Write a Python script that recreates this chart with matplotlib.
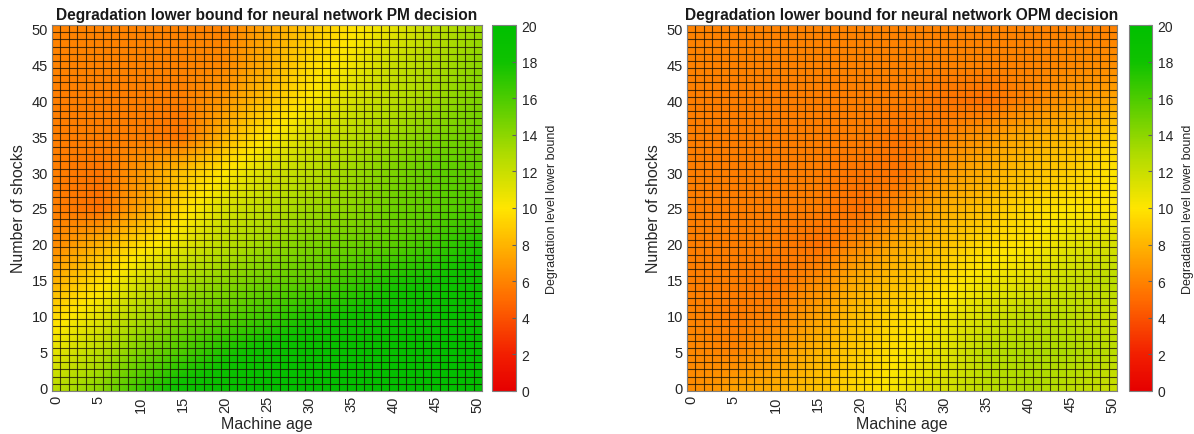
import numpy as np
import matplotlib
matplotlib.use("Agg")
import matplotlib.pyplot as plt
from matplotlib.colors import LinearSegmentedColormap

plt.rcParams['font.family'] = ['Liberation Sans', 'DejaVu Sans']

# Grid positions at which the values were read (every 5 units)
ages = [0, 5, 10, 15, 20, 25, 30, 35, 40, 45, 50]
shocks = [0, 5, 10, 15, 20, 25, 30, 35, 40, 45, 50]
tick_vals = list(range(0, 51, 5))
cbar_ticks = list(range(0, 21, 2))

# rows: shocks 0..50, columns: ages 0..50
pm_bound = [
    [12.5, 14.0, 16.5, 18.5, 19.0, 19.5, 19.5, 19.5, 19.5, 19.5, 19.5],
    [11.0, 12.5, 14.5, 16.0, 17.5, 18.5, 19.0, 19.0, 19.0, 19.5, 19.5],
    [9.5, 11.0, 13.0, 14.5, 15.5, 16.5, 17.5, 18.0, 18.5, 19.0, 19.0],
    [7.8, 9.5, 11.5, 13.0, 14.0, 15.0, 15.5, 16.5, 17.5, 18.0, 18.5],
    [6.3, 7.8, 9.5, 11.0, 12.5, 13.5, 14.5, 15.0, 15.5, 16.5, 17.5],
    [5.8, 5.2, 7.2, 9.5, 11.5, 12.5, 13.5, 14.0, 15.0, 15.5, 16.0],
    [5.8, 5.4, 6.8, 8.5, 10.0, 11.5, 12.5, 13.5, 14.5, 15.5, 15.5],
    [5.8, 5.8, 5.8, 5.4, 8.0, 10.0, 11.5, 12.5, 13.5, 14.5, 15.0],
    [5.8, 5.8, 5.8, 5.8, 6.8, 8.5, 10.0, 11.5, 12.5, 13.5, 14.5],
    [6.0, 6.0, 6.0, 6.0, 6.2, 7.7, 9.5, 10.5, 12.0, 13.0, 14.0],
    [6.0, 6.0, 6.0, 6.0, 6.0, 7.3, 8.7, 9.8, 11.0, 12.5, 13.5],
]

opm_bound = [
    [6.3, 7.2, 7.7, 8.5, 9.5, 10.5, 11.5, 12.5, 13.0, 12.5, 12.0],
    [6.2, 6.0, 6.8, 8.0, 9.0, 10.0, 11.0, 12.5, 13.0, 13.0, 12.5],
    [6.0, 5.7, 6.0, 7.2, 8.5, 9.5, 10.5, 11.5, 12.5, 12.5, 12.0],
    [5.8, 5.8, 5.4, 6.3, 7.7, 8.5, 9.5, 10.5, 11.0, 12.0, 12.5],
    [5.8, 5.8, 5.8, 5.2, 6.3, 7.7, 8.5, 9.5, 10.0, 11.0, 11.5],
    [5.8, 5.8, 5.8, 5.8, 5.2, 6.3, 7.7, 8.5, 9.5, 10.0, 10.0],
    [5.8, 5.8, 5.8, 5.8, 5.4, 5.4, 6.8, 7.7, 8.5, 9.0, 10.0],
    [5.8, 5.8, 5.8, 5.8, 5.8, 5.4, 6.0, 6.8, 7.7, 8.2, 9.0],
    [5.8, 5.8, 5.8, 5.8, 5.8, 5.8, 5.4, 5.2, 6.0, 6.8, 7.3],
    [6.0, 6.0, 6.0, 6.0, 6.0, 6.0, 6.0, 6.0, 6.0, 6.2, 6.4],
    [6.0, 6.0, 6.0, 6.0, 6.0, 6.0, 6.0, 6.0, 6.0, 6.0, 6.0],
]

titles = ["Degradation lower bound for neural network PM decision",
          "Degradation lower bound for neural network OPM decision"]

cmap = LinearSegmentedColormap.from_list("ryg", [
    (0.0, (0.90, 0.0, 0.0)),
    (0.1, (0.95, 0.12, 0.0)),
    (0.25, (1.0, 0.42, 0.0)),
    (0.5, (1.0, 0.90, 0.0)),
    (0.65, (0.68, 0.86, 0.0)),
    (0.8, (0.30, 0.80, 0.0)),
    (0.9, (0.06, 0.76, 0.0)),
    (1.0, (0.0, 0.75, 0.0)),
])

W, H = 1194, 435
fig = plt.figure(figsize=(W / 100, H / 100), dpi=100)

panels = [
    (pm_bound, (52, 26, 482, 392), (492, 516)),
    (opm_bound, (687, 26, 1117, 392), (1129, 1152)),
]
txt = '#262626'
for (data, (x0, y0, x1, y1), (c0, c1)), title in zip(panels, titles):
    ax = fig.add_axes([x0 / W, 1 - y1 / H, (x1 - x0) / W, (y1 - y0) / H])
    arr = np.array(data)
    step = ages[1] - ages[0]
    im = ax.imshow(arr, origin='lower', cmap=cmap, vmin=0, vmax=20,
                   extent=(ages[0] - step / 2, ages[-1] + step / 2,
                           shocks[0] - step / 2, shocks[-1] + step / 2),
                   interpolation='bilinear', interpolation_stage='data',
                   aspect='auto')
    ax.set_xlim(-0.5, 50.5)
    ax.set_ylim(-0.5, 50.5)
    ax.set_xticks(tick_vals)
    ax.set_yticks(tick_vals)
    ax.set_xticks(np.arange(-0.5, 51, 1), minor=True)
    ax.set_yticks(np.arange(-0.5, 51, 1), minor=True)
    ax.grid(which='minor', color='#151005', linewidth=0.8, alpha=0.75)
    ax.tick_params(which='minor', length=0)
    ax.tick_params(which='major', length=0, labelsize=10.5, labelcolor=txt, pad=3)
    for lab in ax.get_xticklabels():
        lab.set_rotation(90)
    ax.set_xlabel("Machine age", fontsize=11.5, color=txt, labelpad=3)
    ax.set_ylabel("Number of shocks", fontsize=11.5, color=txt, labelpad=4)
    ax.set_title(title, fontsize=11.2, fontweight='bold', color='#1a1a1a', pad=4)
    for sp in ax.spines.values():
        sp.set_color('#808080')
        sp.set_linewidth(0.8)

    cax = fig.add_axes([c0 / W, 1 - y1 / H, (c1 - c0) / W, (y1 - y0) / H])
    cb = fig.colorbar(im, cax=cax, ticks=cbar_ticks)
    cb.outline.set_edgecolor('#808080')
    cb.outline.set_linewidth(0.8)
    cax.tick_params(labelsize=10, labelcolor=txt, length=3, direction='in',
                    color='#606060', pad=4)
    cb.set_label("Degradation level lower bound", fontsize=9, color=txt, labelpad=6)

fig.savefig("out.png", dpi=100)
